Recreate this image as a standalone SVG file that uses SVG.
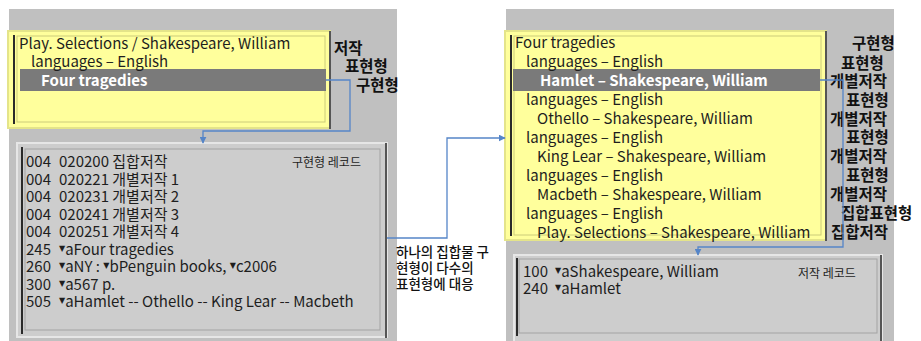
<svg xmlns="http://www.w3.org/2000/svg" width="921" height="341" viewBox="0 0 921 341">
<style>
  .panel { fill: #c0c0c0; }
  .ybox { fill: #ffff9c; stroke: #e4e48a; stroke-width: 2; }
  .yinner { fill: none; stroke: #cccc7a; stroke-width: 1; }
  .dark { stroke: #2a2a2a; stroke-width: 2; }
  .shade { stroke: #555555; stroke-width: 2; }
  .bar { fill: #7a7a7a; }
  .rbox { fill: #cdcdcd; stroke: #e6e6e6; stroke-width: 2; }
  .rinner { fill: none; stroke: #a3a3a3; stroke-width: 1; }
  .t { font-family: "Noto Sans CJK KR", "Noto Sans", sans-serif; font-size: 15px; fill: #1e1e1e; }
  .hb { font-weight: bold; fill: #ffffff; }
  .lab { font-family: "Noto Sans CJK KR", sans-serif; font-size: 15.5px; font-weight: bold; fill: #111111; }
  .rec { font-family: "Noto Sans CJK KR", "Noto Sans", sans-serif; font-size: 15px; fill: #1e1e1e; }
  .tri { font-family: "DejaVu Sans", sans-serif; font-size: 8px; }
  .small { font-family: "Noto Sans CJK KR", sans-serif; font-size: 12px; fill: #1e1e1e; }
  .note { font-family: "Noto Sans CJK KR", sans-serif; font-size: 13.5px; font-weight: 500; fill: #111111; }
  .conn { fill: none; stroke: #5585c8; stroke-width: 1.3; }
</style>
<defs>
  <marker id="arr" viewBox="0 0 10 10" refX="9" refY="5" markerWidth="7" markerHeight="7" orient="auto" markerUnits="userSpaceOnUse">
    <path d="M0 0 L10 5 L0 10 z" fill="#5585c8"/>
  </marker>
</defs>

<rect x="0" y="0" width="921" height="341" fill="#ffffff"/>
<rect class="panel" x="9" y="9" width="388" height="332"/>
<rect class="panel" x="506" y="9" width="388" height="332"/>

<g id="left-tree">
  <rect class="ybox" x="8" y="31" width="322" height="97"/>
  <rect class="yinner" x="17" y="36" width="308" height="86"/>
  <line class="dark" x1="14" y1="35" x2="14" y2="124"/>
  <line class="shade" x1="330" y1="31" x2="330" y2="129"/>
  <rect class="bar" x="20" y="69" width="306" height="22"/>
  <text class="t"><tspan x="19" y="48.5">Play. Selections / Shakespeare, William</tspan><tspan x="31" y="67">languages – English</tspan><tspan class="hb" x="41" y="86">Four tragedies</tspan></text>
</g>

<g id="left-labels">
  <text class="lab"><tspan x="334" y="54">저작</tspan><tspan x="345" y="72">표현형</tspan><tspan x="356" y="91">구현형</tspan></text>
</g>

<g id="left-record">
  <rect class="rbox" x="17" y="143" width="370" height="194"/>
  <rect class="rinner" x="25" y="149" width="355" height="181"/>
  <line class="dark" x1="22" y1="147" x2="22" y2="334"/>
  <line class="shade" x1="386" y1="143" x2="386" y2="338"/>
  <text class="small" x="292" y="167">구현형 레코드</text>
  <text class="rec"><tspan x="26" y="167">004</tspan><tspan x="59">020200 집합저작</tspan><tspan x="26" y="184.5">004</tspan><tspan x="59">020221 개별저작 1</tspan><tspan x="26" y="202">004</tspan><tspan x="59">020231 개별저작 2</tspan><tspan x="26" y="219.5">004</tspan><tspan x="59">020241 개별저작 3</tspan><tspan x="26" y="237">004</tspan><tspan x="59">020251 개별저작 4</tspan><tspan x="26" y="254.5">245</tspan><tspan x="59" class="tri" y="250.5">▼</tspan><tspan y="254.5">aFour tragedies</tspan><tspan x="26" y="272">260</tspan><tspan x="59" class="tri" y="268">▼</tspan><tspan y="272">aNY : </tspan><tspan class="tri" y="268">▼</tspan><tspan y="272">bPenguin books, </tspan><tspan class="tri" y="268">▼</tspan><tspan y="272">c2006</tspan><tspan x="26" y="289.5">300</tspan><tspan x="59" class="tri" y="285.5">▼</tspan><tspan y="289.5">a567 p.</tspan><tspan x="26" y="307">505</tspan><tspan x="59" class="tri" y="303">▼</tspan><tspan y="307">aHamlet -- Othello -- King Lear -- Macbeth</tspan></text>
</g>

<g id="note">
  <text class="note"><tspan x="396" y="257">하나의 집합물 구</tspan><tspan x="396" y="273">현형이 다수의</tspan><tspan x="396" y="289">표현형에 대응</tspan></text>
</g>

<g id="right-tree">
  <rect class="ybox" x="505" y="31" width="321" height="209"/>
  <rect class="yinner" x="514" y="36" width="307" height="199"/>
  <line class="dark" x1="511" y1="35" x2="511" y2="236"/>
  <line class="shade" x1="826" y1="31" x2="826" y2="241"/>
  <rect class="bar" x="513" y="69" width="307" height="22"/>
  <text class="t"><tspan x="515" y="48">Four tragedies</tspan><tspan x="526" y="67">languages – English</tspan><tspan class="hb" x="540" y="86">Hamlet – Shakespeare, William</tspan><tspan x="526" y="105">languages – English</tspan><tspan x="537" y="124">Othello – Shakespeare, William</tspan><tspan x="526" y="143">languages – English</tspan><tspan x="537" y="162">King Lear – Shakespeare, William</tspan><tspan x="526" y="181">languages – English</tspan><tspan x="537" y="200">Macbeth – Shakespeare, William</tspan><tspan x="526" y="219">languages – English</tspan><tspan x="537" y="238">Play. Selections – Shakespeare, William</tspan></text>
</g>

<g id="right-labels">
  <text class="lab"><tspan x="852" y="49">구현형</tspan><tspan x="841" y="69">표현형</tspan><tspan x="830" y="87">개별저작</tspan><tspan x="846" y="106">표현형</tspan><tspan x="830" y="125">개별저작</tspan><tspan x="846" y="143">표현형</tspan><tspan x="830" y="162">개별저작</tspan><tspan x="846" y="181">표현형</tspan><tspan x="830" y="200">개별저작</tspan><tspan x="841" y="219">집합표현형</tspan><tspan x="831" y="238">집합저작</tspan></text>
</g>

<g id="right-record">
  <rect class="rbox" x="514" y="255" width="368" height="90"/>
  <rect class="rinner" x="519" y="259" width="358" height="74"/>
  <line class="dark" x1="517" y1="258" x2="517" y2="336"/>
  <line class="shade" x1="881" y1="255" x2="881" y2="341"/>
  <text class="small" x="798" y="278">저작 레코드</text>
  <text class="rec"><tspan x="523" y="277">100</tspan><tspan x="555" class="tri" y="273">▼</tspan><tspan y="277">aShakespeare, William</tspan><tspan x="523" y="294">240</tspan><tspan x="555" class="tri" y="290">▼</tspan><tspan y="294">aHamlet</tspan></text>
</g>

<g id="connectors">
  <path class="conn" d="M326 80 H350 V131 H203 V143" marker-end="url(#arr)"/>
  <path class="conn" d="M387 238 H447 V138 H505" marker-end="url(#arr)"/>
  <path class="conn" d="M820 80 H843 V247 H698 V255" marker-end="url(#arr)"/>
</g>
</svg>
